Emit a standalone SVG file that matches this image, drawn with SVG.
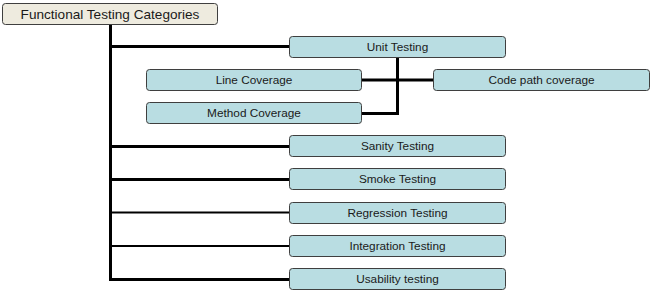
<svg xmlns="http://www.w3.org/2000/svg" width="653" height="294" viewBox="0 0 653 294">
<style>
.box{fill:#b9dde2;stroke:#3f3f3f;stroke-width:1}
.root{fill:#eeebdf;stroke:#3f3f3f;stroke-width:1}
text{font-family:"Liberation Sans",Arial,sans-serif;font-size:11.8px;fill:#1a1a1a;text-anchor:middle;dominant-baseline:central}
.rt{font-size:13.6px}
.c{stroke:#000;fill:none;stroke-width:3}
.t{stroke:#000;fill:none;stroke-width:2}
</style>
<rect width="653" height="294" fill="#fff"/>
<g id="connectors">
<path class="c" d="M110.5 24V280.5"/>
<path class="c" d="M109 46.5H289"/>
<path class="c" d="M109 146.5H289"/>
<path class="c" d="M109 179.5H289"/>
<path class="t" d="M109 212.5H289"/>
<path class="t" d="M109 246H289"/>
<path class="c" d="M109 279.5H289"/>
<path class="c" d="M397.5 57V113.5H361"/>
<path class="c" d="M361 80H433"/>
</g>
<g id="root"><rect class="root" x="2.5" y="3.5" width="215" height="21" rx="3"/><text class="rt" x="110" y="14">Functional Testing Categories</text></g>
<g id="unit"><rect class="box" x="289.5" y="36.5" width="216" height="21" rx="3"/><text x="397.5" y="47">Unit Testing</text></g>
<g id="line"><rect class="box" x="146.5" y="69.5" width="215" height="21" rx="3"/><text x="254" y="80">Line Coverage</text></g>
<g id="codepath"><rect class="box" x="433.5" y="69.5" width="216" height="21" rx="3"/><text x="541.5" y="80">Code path coverage</text></g>
<g id="method"><rect class="box" x="146.5" y="102.5" width="215" height="21" rx="3"/><text x="254" y="113">Method Coverage</text></g>
<g id="sanity"><rect class="box" x="289.5" y="135.5" width="216" height="21" rx="3"/><text x="397.5" y="146">Sanity Testing</text></g>
<g id="smoke"><rect class="box" x="289.5" y="168.5" width="216" height="21" rx="3"/><text x="397.5" y="179">Smoke Testing</text></g>
<g id="regression"><rect class="box" x="289.5" y="202.5" width="216" height="21" rx="3"/><text x="397.5" y="213">Regression Testing</text></g>
<g id="integration"><rect class="box" x="289.5" y="235.5" width="216" height="21" rx="3"/><text x="397.5" y="246">Integration Testing</text></g>
<g id="usability"><rect class="box" x="289.5" y="268.5" width="216" height="21" rx="3"/><text x="397.5" y="279">Usability testing</text></g>
</svg>
